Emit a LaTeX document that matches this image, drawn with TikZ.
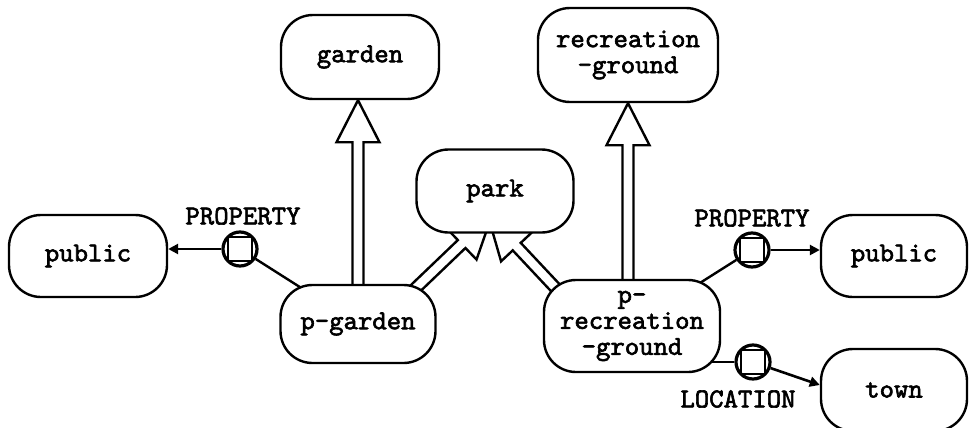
\documentclass[tikz,border=0pt]{standalone}
\usepackage{fontspec}
\setmonofont{lmmono10-regular.otf}[BoldFont=lmmono10-regular.otf, BoldFeatures={FakeBold=2.2}]
\usetikzlibrary{calc,arrows.meta}
\pgfdeclarelayer{bg}
\pgfsetlayers{bg,main}
\tikzset{
  box/.style={draw, fill=white, rounded corners=16pt, line width=1.2pt,
    align=center, inner sep=0pt},
  propc/.style={circle, draw, fill=white, line width=1.6pt, minimum size=17pt, inner sep=0pt},
  propsq/.style={draw, line width=1.1pt, minimum size=12pt, inner sep=0pt},
  lbl/.style={inner sep=0pt},
  hollow/.style={draw, fill=white, line width=1.2pt, line join=miter},
  conn/.style={line width=1.2pt},
  tipconn/.style={line width=1.3pt, -{Triangle[length=5pt,width=5pt]}}
}
\newcommand\hollowarrow[2]{%
  \coordinate (hP) at ($(#2)!21pt!(#1)$);
  \draw[hollow] ($(#1)!2.75pt!90:(#2)$) -- ($(hP)!2.75pt!-90:(#1)$)
    -- ($(hP)!10.75pt!-90:(#1)$) -- (#2) -- ($(hP)!10.75pt!90:(#1)$)
    -- ($(hP)!2.75pt!90:(#1)$) -- ($(#1)!2.75pt!-90:(#2)$) -- cycle;}
\begin{document}
\begin{tikzpicture}[x=0.5pt,y=-0.5pt,font=\fontsize{13.7}{13}\selectfont\ttfamily\bfseries]
\useasboundingbox (0,0) rectangle (969,428);
\node[box, minimum width=79pt, minimum height=42pt] (garden) at (360,57) {garden};
\node[box, minimum width=90pt, minimum height=47pt] (rec) at (628,55) {recreation\\-ground};
\node[box, minimum width=78.5pt, minimum height=41.5pt] (park) at (495,191) {park};
\node[box, minimum width=79pt, minimum height=41pt] (publ) at (88,256) {public};
\node[box, minimum width=77.5pt, minimum height=39pt] (pg) at (358,324) {p-garden};
\node[box, minimum width=88pt, minimum height=46pt] (prec) at (632,326) {p-\\recreation\\-ground};
\node[box, minimum width=73pt, minimum height=41pt] (pubr) at (894,256) {public};
\node[box, minimum width=73pt, minimum height=41pt] (town) at (894,390) {town};
\node[propc] (pl) at (240,249) {};
\node[propsq] (plsq) at (pl) {};
\node[propc] (pr) at (752,250) {};
\node[propsq] (prsq) at (pr) {};
\node[propc] (loc) at (753,362) {};
\node[propsq] (locsq) at (loc) {};
\node[lbl] (tpl) at (243,216) {PROPERTY};
\node[lbl] (tpr) at (752,218) {PROPERTY};
\node[lbl] (tloc) at (738,399) {LOCATION};
\begin{pgfonlayer}{bg}
  \coordinate (gB) at (pg.center |- garden.south);
  \hollowarrow{pg.center}{gB}
  \coordinate (rA) at (rec.south |- prec.center);
  \hollowarrow{rA}{rec.south}
  \coordinate (dA) at ($(pg.center)+(40,-19)$);
  \coordinate (dB) at ($(park.center)+(-3,24)$);
  \hollowarrow{dA}{dB}
  \coordinate (eA) at ($(prec.center)+(-52,-12)$);
  \coordinate (eB) at ($(park.center)+(-7,25)$);
  \hollowarrow{eA}{eB}
  \draw[conn] (pg.center) -- (pl);
  \draw[tipconn] (pl) -- (pl -| publ.east);
  \draw[conn] (prec.center) -- (pr);
  \draw[tipconn] (pr) -- (pr -| pubr.west);
  \draw[conn] (prec.center |- loc.center) -- (loc);
  \coordinate (tw) at ($(town.west)+(0,-5)$);
  \draw[tipconn] (loc) -- (tw);
\end{pgfonlayer}
\end{tikzpicture}
\end{document}
